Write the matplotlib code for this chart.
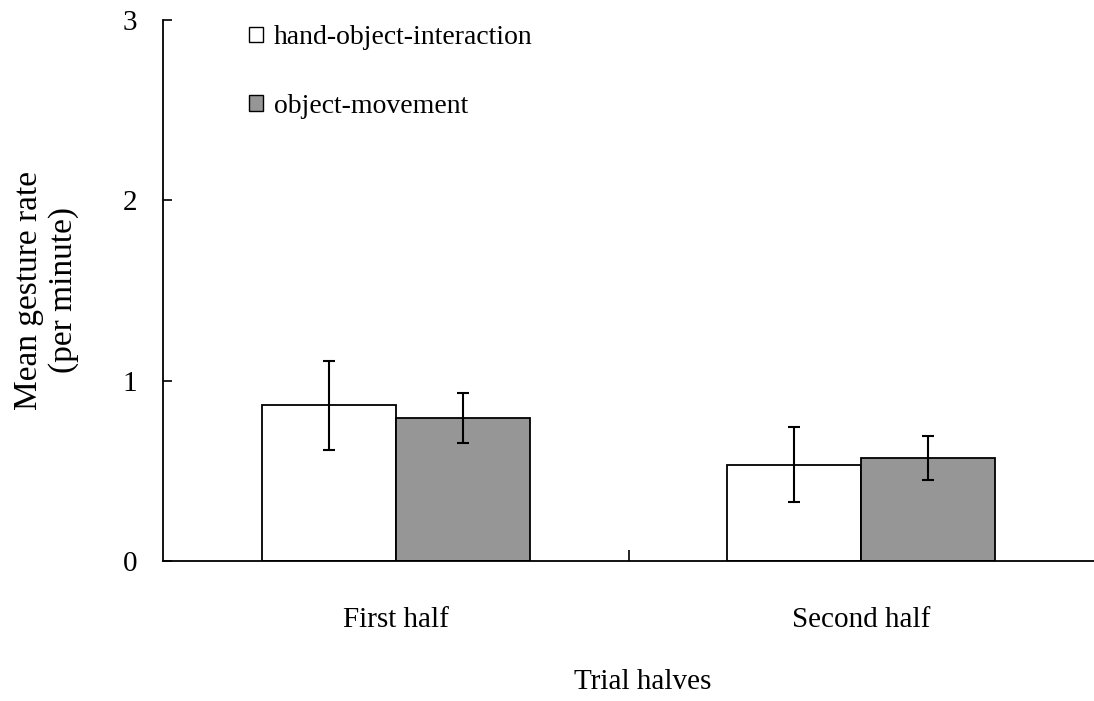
import matplotlib.pyplot as plt
from matplotlib.patches import Patch

plt.rcParams['font.family'] = ['Liberation Serif', 'DejaVu Serif']

# data
halves = ["First half", "Second half"]
hand_obj = [0.864, 0.534]
hand_obj_err = [0.247, 0.208]
obj_move = [0.795, 0.571]
obj_move_err = [0.139, 0.121]

fig = plt.figure(figsize=(10.94, 7.01), dpi=100)
ax = fig.add_axes([0.149, 0.1997, 0.851, 0.7718])

x = [0, 1]
w = 0.288
ax.bar([i - w / 2 for i in x], hand_obj, w, yerr=hand_obj_err, color='white',
       edgecolor='black', linewidth=1.3, capsize=4.5,
       error_kw=dict(elinewidth=1.5, capthick=1.5, ecolor='black'))
ax.bar([i + w / 2 for i in x], obj_move, w, yerr=obj_move_err, color='#969696',
       edgecolor='black', linewidth=1.3, capsize=4.5,
       error_kw=dict(elinewidth=1.5, capthick=1.5, ecolor='black'))

ax.set_xlim(-0.5, 1.5)
ax.set_ylim(0, 3)
ax.set_yticks([0, 1, 2, 3])
ax.tick_params(axis='y', direction='in', length=6.5, width=1.2, pad=18.5, labelsize=21)

# category labels without ticks, one separator tick in the middle
ax.set_xticks([0.5])
ax.set_xticklabels([""])
ax.set_xticks(x, minor=True)
ax.set_xticklabels(halves, minor=True)
ax.tick_params(axis='x', which='major', direction='in', length=8, width=1.2)
ax.tick_params(axis='x', which='minor', length=0, pad=33, labelsize=21)

for s in ['top', 'right']:
    ax.spines[s].set_visible(False)
for s in ['left', 'bottom']:
    ax.spines[s].set_linewidth(1.3)

ax.set_xlabel("Trial halves", fontsize=21)
ax.xaxis.set_label_coords(0.515, -0.2)
ax.set_ylabel("Mean gesture rate\n(per minute)", fontsize=24, linespacing=1.2)
ax.yaxis.set_label_coords(-0.09, 0.5)

handles = [Patch(facecolor='white', edgecolor='black', linewidth=1.0),
           Patch(facecolor='#969696', edgecolor='black', linewidth=1.0)]
ax.legend(handles, ["hand-object-interaction", "object-movement"],
          loc='upper left', bbox_to_anchor=(0.092, 0.99), frameon=False,
          fontsize=20, handlelength=0.5, handleheight=0.5, handletextpad=0.4,
          labelspacing=1.58, borderpad=0, borderaxespad=0)

plt.savefig("out.png", dpi=100)
